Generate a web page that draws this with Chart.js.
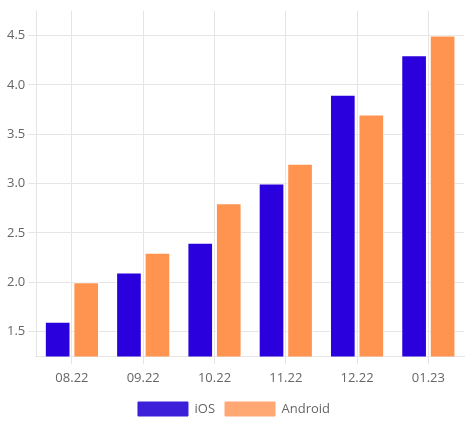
<!DOCTYPE html>
<html>
<head>
<script src="https://cdn.jsdelivr.net/npm/chart.js@4"></script>
<style>
body { margin: 0; background: #fff; }
#wrap { width: 468px; height: 436px; }
</style>
</head>
<body>
<div id="wrap"><canvas id="grafico"></canvas></div>
<script>
var labels = ["08.22", "09.22", "10.22", "11.22", "12.22", "01.23"];
var iosValues = [1.6, 2.1, 2.4, 3.0, 3.9, 4.3];
var androidValues = [2.0, 2.3, 2.8, 3.2, 3.7, 4.5];
var tickValues = [1.5, 2, 2.5, 3, 3.5, 4, 4.5];

Chart.defaults.font.family = "'Open Sans', sans-serif";
Chart.defaults.font.size = 13;
Chart.defaults.color = "#666";

new Chart(document.getElementById("grafico"), {
    type: "bar",
    data: {
        labels: labels,
        datasets: [{
            label: "iOS",
            data: iosValues,
            backgroundColor: "#2a00dc",
            borderColor: "#fff",
            borderWidth: 1
        }, {
            label: "Android",
            data: androidValues,
            backgroundColor: "#ff9450",
            borderColor: "#fff",
            borderWidth: 1
        }]
    },
    options: {
        responsive: true,
        maintainAspectRatio: false,
        animation: false,
        layout: { padding: { left: 4, right: 4, top: 8, bottom: 10 } },
        plugins: {
            legend: {
                position: "bottom",
                labels: {
                    boxWidth: 50,
                    boxHeight: 14,
                    generateLabels: function(chart) {
                        var cols = ["#3c1fd9", "#ffa874"];
                        return chart.data.datasets.map(function(ds, i) {
                            return { text: ds.label, fillStyle: cols[i], strokeStyle: cols[i], lineWidth: 1, datasetIndex: i, fontColor: "#666" };
                        });
                    }
                }
            }
        },
        scales: {
            x: { grid: { offset: false, color: "#e5e5e5" }, ticks: { padding: 6 } },
            y: {
                min: 1.25,
                max: 4.75,
                grid: { color: "#e5e5e5" },
                afterBuildTicks: function(axis) {
                    axis.ticks = tickValues.map(function(v) { return { value: v }; });
                }
            }
        }
    }
});
</script>
</body>
</html>
